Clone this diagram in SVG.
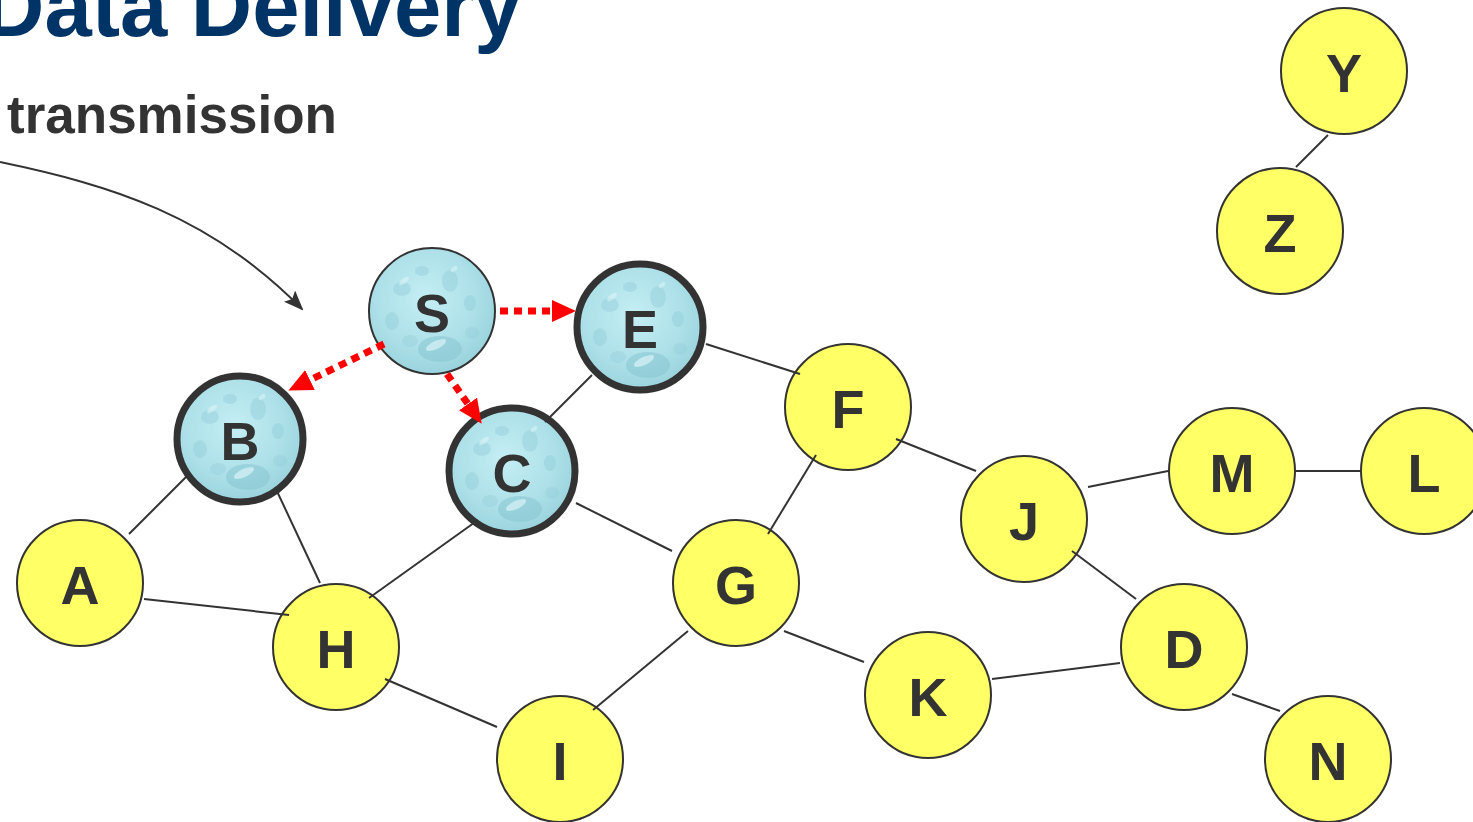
<svg xmlns="http://www.w3.org/2000/svg" xmlns:xlink="http://www.w3.org/1999/xlink" width="1473" height="822" viewBox="0 0 1473 822">
<defs>
  <radialGradient id="water" cx="45%" cy="40%" r="65%">
    <stop offset="0" stop-color="#c4eef4"/>
    <stop offset="0.6" stop-color="#ade0e8"/>
    <stop offset="1" stop-color="#96d0db"/>
  </radialGradient>
  <g id="drops">
    <ellipse cx="-30" cy="-22" rx="9" ry="7" fill="#8fcbd6" opacity="0.4"/>
    <ellipse cx="-10" cy="-40" rx="7" ry="5" fill="#8fcbd6" opacity="0.4"/>
    <ellipse cx="18" cy="-30" rx="8" ry="11" fill="#8fcbd6" opacity="0.4"/>
    <ellipse cx="38" cy="-8" rx="6" ry="8" fill="#8fcbd6" opacity="0.4"/>
    <ellipse cx="-40" cy="10" rx="7" ry="9" fill="#8fcbd6" opacity="0.4"/>
    <ellipse cx="-22" cy="30" rx="8" ry="6" fill="#8fcbd6" opacity="0.35"/>
    <ellipse cx="40" cy="22" rx="7" ry="6" fill="#8fcbd6" opacity="0.35"/>
    <ellipse cx="8" cy="38" rx="22" ry="13" fill="#84c3cf" opacity="0.5"/>
    <ellipse cx="4" cy="34" rx="11" ry="4" fill="#e4f8fb" opacity="0.6" transform="rotate(-25 4 34)"/>
    <ellipse cx="-28" cy="-30" rx="6" ry="2.5" fill="#e4f8fb" opacity="0.5" transform="rotate(-40 -28 -30)"/>
    <ellipse cx="22" cy="-42" rx="4" ry="2" fill="#e4f8fb" opacity="0.5" transform="rotate(-40 22 -42)"/>
  </g>
  <marker id="blackHead" markerUnits="userSpaceOnUse" markerWidth="20" markerHeight="16" viewBox="0 0 20 16" refX="18" refY="8" orient="auto">
    <path d="M0,0 L20,8 L0,16 L4,8 Z" fill="#333333"/>
  </marker>
  <marker id="redHead" markerUnits="userSpaceOnUse" markerWidth="24" markerHeight="22" viewBox="0 0 24 22" refX="0" refY="11" orient="auto">
    <path d="M0,0 L24,11 L0,22 Z" fill="#ff0000"/>
  </marker>
</defs>
<style>
  .yel { fill: #ffff66; stroke: #333333; stroke-width: 2; }
  .blue { fill: url(#water); stroke: #333333; stroke-width: 7; }
  .blueThin { fill: url(#water); stroke: #333333; stroke-width: 2; }
  .lbl { font-family: "Liberation Sans", Arial, sans-serif; font-weight: bold; font-size: 54px; fill: #333333; text-anchor: middle; }
  .edge { stroke: #333333; stroke-width: 2; fill: none; }
  .red { stroke: #ff0000; stroke-width: 7; stroke-dasharray: 8 6; fill: none; marker-end: url(#redHead); }
</style>
<rect x="0" y="0" width="1473" height="822" fill="#ffffff"/>

<text x="-17" y="36" font-family="'Liberation Sans', Arial, sans-serif" font-weight="bold" font-size="85" fill="#003366">Data Delivery</text>
<text x="7" y="133" font-family="'Liberation Sans', Arial, sans-serif" font-weight="bold" font-size="53" fill="#333333">transmission</text>

<g id="nodes">
  <g id="node-S"><circle class="blueThin" cx="432" cy="311" r="63"/><use href="#drops" x="432" y="311"/><text class="lbl" x="432" y="332">S</text></g>
  <g id="node-E"><circle class="blue" cx="640" cy="327" r="63"/><use href="#drops" x="640" y="327"/><text class="lbl" x="640" y="348">E</text></g>
  <g id="node-B"><circle class="blue" cx="240" cy="439" r="63"/><use href="#drops" x="240" y="439"/><text class="lbl" x="240" y="460">B</text></g>
  <g id="node-C"><circle class="blue" cx="512" cy="471" r="63"/><use href="#drops" x="512" y="471"/><text class="lbl" x="512" y="492">C</text></g>
  <g id="node-A"><circle class="yel" cx="80" cy="583" r="63"/><text class="lbl" x="80" y="604">A</text></g>
  <g id="node-H"><circle class="yel" cx="336" cy="647" r="63"/><text class="lbl" x="336" y="668">H</text></g>
  <g id="node-I"><circle class="yel" cx="560" cy="759" r="63"/><text class="lbl" x="560" y="780">I</text></g>
  <g id="node-G"><circle class="yel" cx="736" cy="583" r="63"/><text class="lbl" x="736" y="604">G</text></g>
  <g id="node-F"><circle class="yel" cx="848" cy="407" r="63"/><text class="lbl" x="848" y="428">F</text></g>
  <g id="node-K"><circle class="yel" cx="928" cy="695" r="63"/><text class="lbl" x="928" y="716">K</text></g>
  <g id="node-J"><circle class="yel" cx="1024" cy="519" r="63"/><text class="lbl" x="1024" y="540">J</text></g>
  <g id="node-D"><circle class="yel" cx="1184" cy="647" r="63"/><text class="lbl" x="1184" y="668">D</text></g>
  <g id="node-N"><circle class="yel" cx="1328" cy="759" r="63"/><text class="lbl" x="1328" y="780">N</text></g>
  <g id="node-M"><circle class="yel" cx="1232" cy="471" r="63"/><text class="lbl" x="1232" y="492">M</text></g>
  <g id="node-L"><circle class="yel" cx="1424" cy="471" r="63"/><text class="lbl" x="1424" y="492">L</text></g>
  <g id="node-Y"><circle class="yel" cx="1344" cy="71" r="63"/><text class="lbl" x="1344" y="92">Y</text></g>
  <g id="node-Z"><circle class="yel" cx="1280" cy="231" r="63"/><text class="lbl" x="1280" y="252">Z</text></g>
</g>

<g id="connectors">
  <path class="edge" d="M0,162 C110,185 210,215 302,309" marker-end="url(#blackHead)"/>
  <line class="edge" x1="129" y1="534" x2="190" y2="473"/>
  <line class="edge" x1="144" y1="599" x2="289" y2="615"/>
  <line class="edge" x1="275" y1="487" x2="320" y2="583"/>
  <line class="edge" x1="369" y1="598" x2="478" y2="520"/>
  <line class="edge" x1="385" y1="679" x2="497" y2="727"/>
  <line class="edge" x1="545" y1="422" x2="592" y2="375"/>
  <line class="edge" x1="576" y1="503" x2="672" y2="551"/>
  <line class="edge" x1="706" y1="344" x2="800" y2="374"/>
  <line class="edge" x1="816" y1="455" x2="768" y2="534"/>
  <line class="edge" x1="896" y1="439" x2="976" y2="471"/>
  <line class="edge" x1="688" y1="631" x2="593" y2="710"/>
  <line class="edge" x1="784" y1="631" x2="864" y2="662"/>
  <line class="edge" x1="992" y1="679" x2="1120" y2="663"/>
  <line class="edge" x1="1088" y1="487" x2="1168" y2="471"/>
  <line class="edge" x1="1296" y1="471" x2="1360" y2="471"/>
  <line class="edge" x1="1072" y1="551" x2="1136" y2="599"/>
  <line class="edge" x1="1232" y1="694" x2="1280" y2="711"/>
  <line class="edge" x1="1328" y1="135" x2="1296" y2="167"/>
  <line class="red" x1="500" y1="311" x2="552" y2="311"/>
  <line class="red" x1="384" y1="344" x2="310" y2="380"/>
  <line class="red" x1="447" y1="374" x2="468" y2="404"/>
</g>
</svg>
